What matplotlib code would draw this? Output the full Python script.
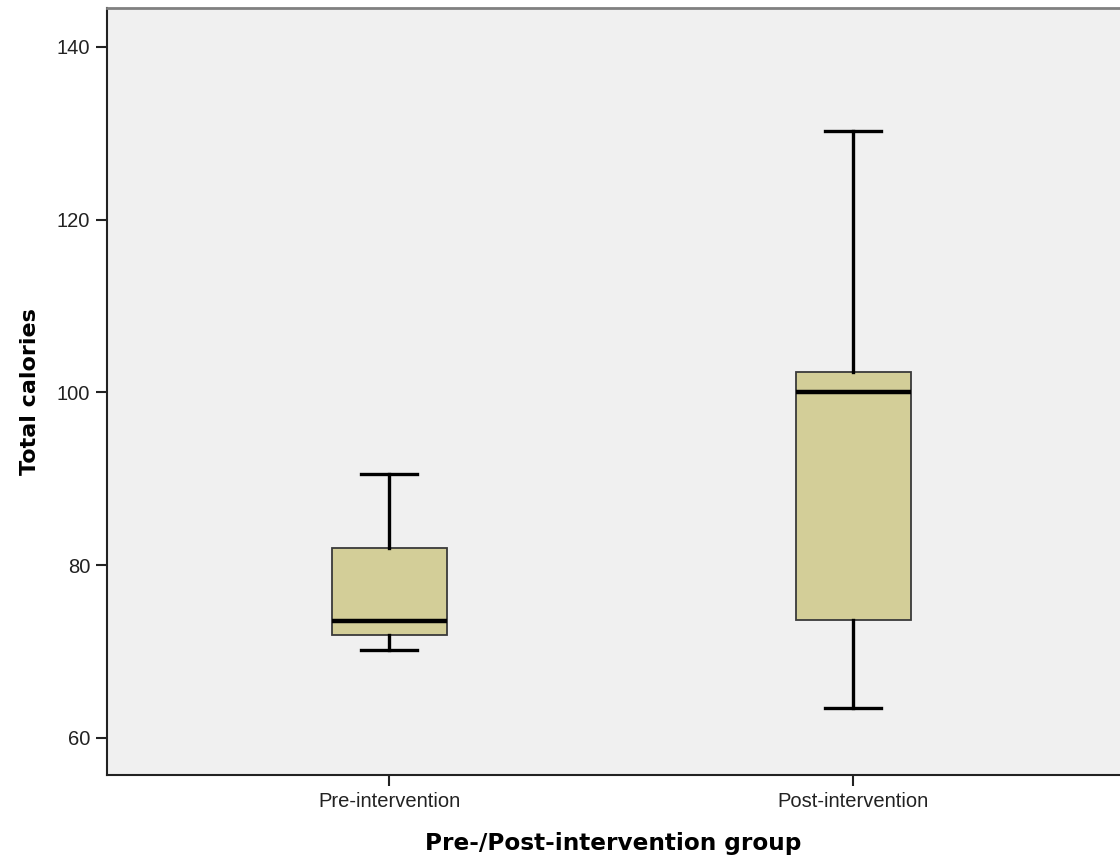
"""
Boxplot of total calories, pre- vs post-intervention (SPSS style).
Output: out.png
"""
import matplotlib
matplotlib.use("Agg")
import matplotlib.pyplot as plt

# Five-number summaries
groups = ["Pre-intervention", "Post-intervention"]
whislo = [70.2, 63.5]
q1 = [71.9, 73.7]
med = [73.5, 100.0]
q3 = [82.0, 102.4]
whishi = [90.5, 130.3]

y_ticks = [60, 80, 100, 120, 140]

plt.rcParams['font.family'] = ['Liberation Sans', 'DejaVu Sans']

stats = []
for i, name in enumerate(groups):
    stats.append({
        'label': name,
        'whislo': whislo[i], 'q1': q1[i], 'med': med[i],
        'q3': q3[i], 'whishi': whishi[i], 'fliers': [],
    })

fig = plt.figure(figsize=(11.2, 8.56), dpi=100)
ax = fig.add_axes([0.0955, 0.0946, 0.9045, 0.8961])
ax.set_facecolor('#f0f0f0')

positions = list(range(len(groups)))
ax.bxp(
    stats, positions=positions, widths=0.248, capwidths=0.12,
    patch_artist=True, showfliers=False,
    boxprops=dict(facecolor='#d3ce98', edgecolor='#3a3a3a', linewidth=1.3),
    medianprops=dict(color='black', linewidth=3.2),
    whiskerprops=dict(color='black', linewidth=2.4),
    capprops=dict(color='black', linewidth=2.4),
)

ax.set_xlim(-0.608, 1.575)
ax.set_ylim(55.7, 144.5)
ax.set_yticks(y_ticks)
ax.set_yticklabels([str(v) for v in y_ticks])
ax.set_xticks(positions)
ax.set_xticklabels(groups)

ax.tick_params(axis='both', direction='out', length=8, width=1.5,
               labelsize=14.5, color='#222222', labelcolor='#222222', pad=4)

ax.spines['right'].set_visible(False)
ax.spines['top'].set_color('#808080')
ax.spines['top'].set_linewidth(2)
for s in ('left', 'bottom'):
    ax.spines[s].set_color('#222222')
    ax.spines[s].set_linewidth(1.5)

ax.set_xlabel('Pre-/Post-intervention group', family=['DejaVu Sans'],
              fontsize=16.7, fontweight='bold', labelpad=15)
ax.set_ylabel('Total calories', family=['DejaVu Sans'],
              fontsize=16, fontweight='bold', labelpad=12)

fig.savefig('out.png', dpi=100)
